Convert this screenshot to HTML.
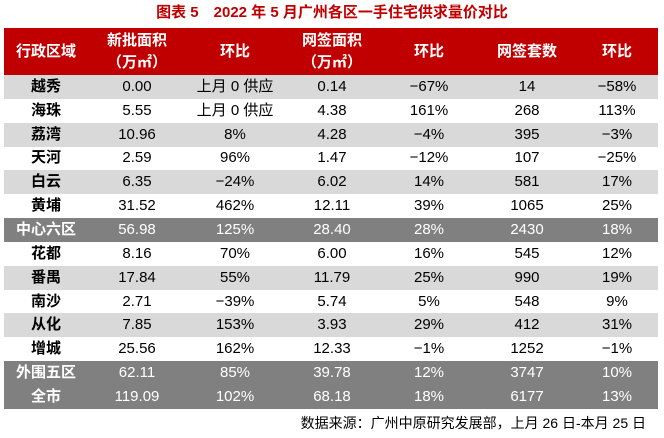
<!DOCTYPE html>
<html><head><meta charset="utf-8"><style>
body{margin:0;width:664px;height:438px;background:#fff;font-family:"Liberation Sans","Noto Sans CJK SC",sans-serif;position:relative;overflow:hidden}
.t{position:absolute;top:3px;left:0;width:664px;text-align:center;color:#c00000;font-weight:bold;font-size:15px;line-height:20px}
table{position:absolute;left:4px;top:28px;width:654px;border-collapse:collapse;table-layout:fixed}
td{text-align:center;font-size:15px;height:23.85px;padding:0;line-height:16px;color:#000}
td:first-child{font-weight:bold}
tr.h td{background:#c00000;color:#fff;font-weight:bold;font-size:15px;height:47px;line-height:22px}
tr.g td{background:#d9d9d9}
tr.d td{background:#808080;color:#fff}
.s{position:absolute;top:413px;right:18px;font-size:14px;color:#000}
</style></head><body>
<div class="t">图表 5　2022 年 5 月广州各区一手住宅供求量价对比</div>
<table>
<colgroup><col style="width:84px"><col style="width:98px"><col style="width:98px"><col style="width:96px"><col style="width:98px"><col style="width:98px"><col style="width:82px"></colgroup>
<tr class="h"><td>行政区域</td><td>新批面积<br>（万㎡）</td><td>环比</td><td>网签面积<br>（万㎡）</td><td>环比</td><td>网签套数</td><td>环比</td></tr>
<tr class="g"><td>越秀</td><td>0.00</td><td>上月 0 供应</td><td>0.14</td><td>−67%</td><td>14</td><td>−58%</td></tr>
<tr><td>海珠</td><td>5.55</td><td>上月 0 供应</td><td>4.38</td><td>161%</td><td>268</td><td>113%</td></tr>
<tr class="g"><td>荔湾</td><td>10.96</td><td>8%</td><td>4.28</td><td>−4%</td><td>395</td><td>−3%</td></tr>
<tr><td>天河</td><td>2.59</td><td>96%</td><td>1.47</td><td>−12%</td><td>107</td><td>−25%</td></tr>
<tr class="g"><td>白云</td><td>6.35</td><td>−24%</td><td>6.02</td><td>14%</td><td>581</td><td>17%</td></tr>
<tr><td>黄埔</td><td>31.52</td><td>462%</td><td>12.11</td><td>39%</td><td>1065</td><td>25%</td></tr>
<tr class="d"><td>中心六区</td><td>56.98</td><td>125%</td><td>28.40</td><td>28%</td><td>2430</td><td>18%</td></tr>
<tr><td>花都</td><td>8.16</td><td>70%</td><td>6.00</td><td>16%</td><td>545</td><td>12%</td></tr>
<tr class="g"><td>番禺</td><td>17.84</td><td>55%</td><td>11.79</td><td>25%</td><td>990</td><td>19%</td></tr>
<tr><td>南沙</td><td>2.71</td><td>−39%</td><td>5.74</td><td>5%</td><td>548</td><td>9%</td></tr>
<tr class="g"><td>从化</td><td>7.85</td><td>153%</td><td>3.93</td><td>29%</td><td>412</td><td>31%</td></tr>
<tr><td>增城</td><td>25.56</td><td>162%</td><td>12.33</td><td>−1%</td><td>1252</td><td>−1%</td></tr>
<tr class="d"><td>外围五区</td><td>62.11</td><td>85%</td><td>39.78</td><td>12%</td><td>3747</td><td>10%</td></tr>
<tr class="d"><td>全市</td><td>119.09</td><td>102%</td><td>68.18</td><td>18%</td><td>6177</td><td>13%</td></tr>
</table>
<div class="s">数据来源：广州中原研究发展部，上月 26 日-本月 25 日</div>
</body></html>
